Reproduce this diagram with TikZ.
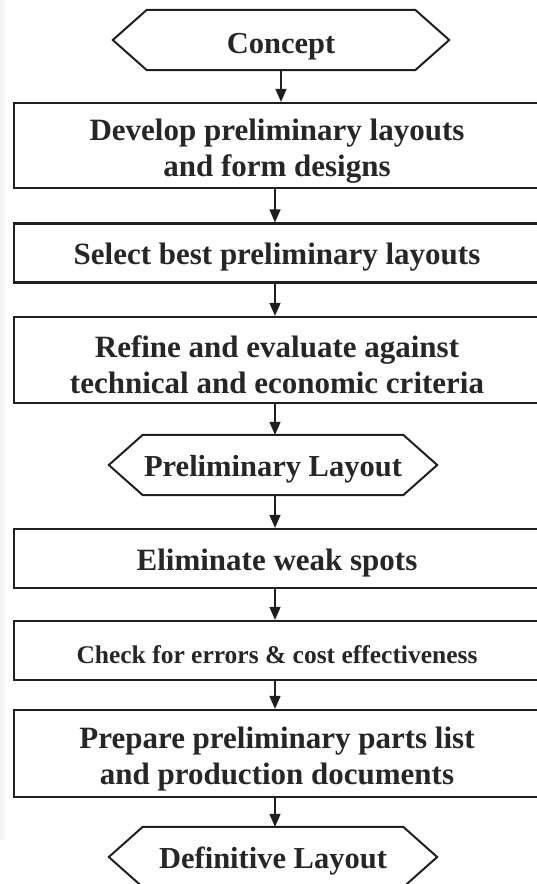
\documentclass[tikz,border=0pt]{standalone}
\usepackage{fontspec}
\setmainfont{Liberation Serif}
\usetikzlibrary{arrows.meta}
% invisible strut that lowers a node's text by making its first line taller
\newcommand\dropby[1]{\rule{0pt}{#1}}
\begin{document}
\begin{tikzpicture}[x=1pt,y=-1pt,
  ink/.style={draw=black!88, line width=2.2pt},
  stepbox/.style={ink, rectangle, minimum width=526pt, inner sep=0pt, align=center,
    font=\bfseries\fontsize{31}{36}\selectfont, text=black!85},
  smallstep/.style={stepbox, font=\bfseries\fontsize{25.5}{30}\selectfont},
  term/.style={rectangle, inner sep=0pt, minimum height=60pt, align=center,
    font=\bfseries\fontsize{30.5}{35}\selectfont, text=black!85},
  hexline/.style={draw=black!88, line width=2pt, line join=miter},
  flow/.style={draw=black!88, line width=1.6pt, -{Triangle[width=11pt,length=13pt]}},
]
\clip (0,0) rectangle (537,884);
\useasboundingbox (0,0) rectangle (537,884);
% faint strip along the left margin
\fill[black!4] (0,0) rectangle (5,840);

% column of the connectors
\coordinate (ax) at (275,0);

% terminal labels (drawn as hexagons below)
\node[term, minimum width=268pt] (c) at (281,40) {\dropby{33pt}Concept};
\node[term, minimum width=260pt] (p) at (273,465) {\dropby{29pt}Preliminary Layout};
\node[term, minimum width=260pt] (d) at (273,857) {\dropby{29pt}Definitive Layout};

% process steps
\node[stepbox, minimum height=85pt] (b1) at (277,145.5) {\dropby{33pt}Develop preliminary layouts\\and form designs};
\node[stepbox, minimum height=59pt] (b2) at (277,253) {\dropby{29pt}Select best preliminary layouts};
\node[stepbox, minimum height=86pt] (b3) at (277,360) {\dropby{31pt}Refine and evaluate against\\technical and economic criteria};
\node[stepbox, minimum height=59pt] (b4) at (277,558.5) {\dropby{31pt}Eliminate weak spots};
\node[smallstep, minimum height=59pt] (b5) at (277,650.5) {\dropby{25.5pt}Check for errors \& cost effectiveness};
\node[stepbox, minimum height=87pt] (b6) at (277,753.5) {\dropby{33pt}Prepare preliminary parts list\\and production documents};

% hexagonal frames round the terminals
\foreach \h in {c,p,d}{
  \draw[hexline] ([xshift=-34pt]\h.west) -- (\h.north west) -- (\h.north east)
    -- ([xshift=34pt]\h.east) -- (\h.south east) -- (\h.south west) -- cycle;
}

% connectors
\draw[flow] (c.south) -- (c.south |- b1.north);
\draw[flow] (b1.south -| ax) -- (b2.north -| ax);
\draw[flow] (b2.south -| ax) -- (b3.north -| ax);
\draw[flow] (b3.south -| ax) -- (p.north -| ax);
\draw[flow] (p.south -| ax) -- (b4.north -| ax);
\draw[flow] (b4.south -| ax) -- (b5.north -| ax);
\draw[flow] (b5.south -| ax) -- (b6.north -| ax);
\draw[flow] (b6.south -| ax) -- (d.north -| ax);
\end{tikzpicture}
\end{document}
